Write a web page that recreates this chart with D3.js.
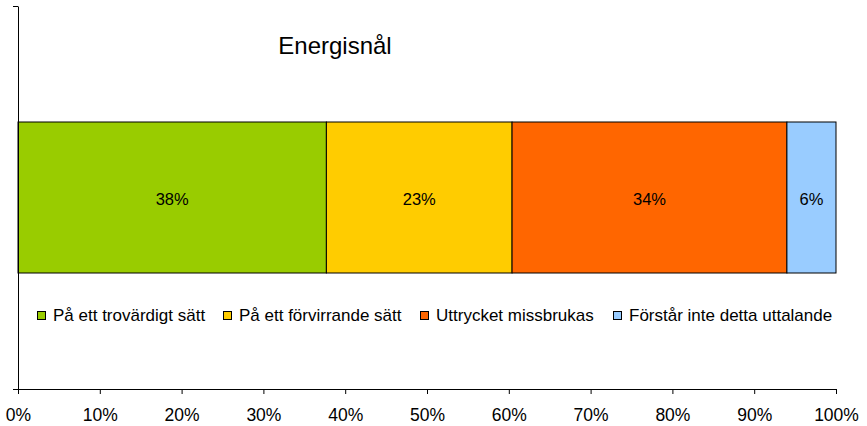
<!DOCTYPE html>
<html><head><meta charset="utf-8">
<script src="https://cdn.jsdelivr.net/npm/d3@7"></script>
<style>body{margin:0;background:#fff}svg{display:block}text{font-family:"Liberation Sans",Arial,sans-serif}</style>
</head><body><svg id="c" width="867" height="426"></svg>
<script>
const title = "Energisnål";
const categories = ["På ett trovärdigt sätt","På ett förvirrande sätt","Uttrycket missbrukas","Förstår inte detta uttalande"];
const values = [37.7, 22.7, 33.6, 6.0];
const labels = ["38%","23%","34%","6%"];
const colors = ["#99CC00","#FFCC00","#FF6600","#99CCFF"];
const xTicks = [0,10,20,30,40,50,60,70,80,90,100];

const svg = d3.select("#c");
const x = d3.scaleLinear().domain([0,100]).range([18,836]);
const y = d3.scaleLinear().domain([0,1]).range([389,6]);

let acc = 0;
const segs = values.map((v,i)=>{const s={x0:acc,x1:acc+v,v,i}; acc+=v; return s;});
const barTop = 122, barBot = 273;
svg.selectAll("rect.seg").data(segs).join("rect")
  .attr("x",d=>x(d.x0)).attr("width",d=>x(Math.min(d.x1,100))-x(d.x0))
  .attr("y",barTop).attr("height",barBot-barTop)
  .attr("fill",d=>colors[d.i]).attr("stroke","#000").attr("stroke-width",1);
svg.selectAll("text.lbl").data(segs).join("text")
  .attr("x",d=>(x(d.x0)+x(Math.min(d.x1,100)))/2).attr("y",205)
  .attr("text-anchor","middle").attr("font-size",16.5).attr("fill","#000")
  .text(d=>labels[d.i]);

const xa = svg.append("g").attr("transform","translate(0,389)")
  .call(d3.axisBottom(x).tickValues(xTicks).tickFormat(d=>d+"%").tickSize(5));
xa.select(".domain").attr("stroke","#000").attr("d","M18.5,0.5H836.5");
xa.selectAll(".tick line").attr("stroke","#000");
xa.selectAll(".tick text").attr("y",32).attr("dy",0).attr("font-size",17.5).attr("fill","#000")
  .attr("font-family","Liberation Sans, Arial, sans-serif");

const ya = svg.append("g").attr("transform","translate(18,0)")
  .call(d3.axisLeft(y).tickValues([0,1]).tickFormat("").tickSize(5));
ya.select(".domain").attr("stroke","#000").attr("d","M0.5,6.5V389.5");
ya.selectAll(".tick line").attr("stroke","#000");

svg.append("text").attr("x",335).attr("y",54).attr("text-anchor","middle")
  .attr("font-size",24).attr("fill","#000").text(title);

const legX = [37, 223, 420, 613];
const lg = svg.selectAll("g.leg").data(categories).join("g")
  .attr("transform",(d,i)=>`translate(${legX[i]},311)`);
lg.append("rect").attr("width",8).attr("height",8).attr("x",0.5).attr("y",0.5)
  .attr("fill",(d,i)=>colors[i]).attr("stroke","#000").attr("stroke-width",1);
lg.append("text").attr("x",16).attr("y",10).attr("font-size",17).attr("fill","#000").text(d=>d);
</script></body></html>
